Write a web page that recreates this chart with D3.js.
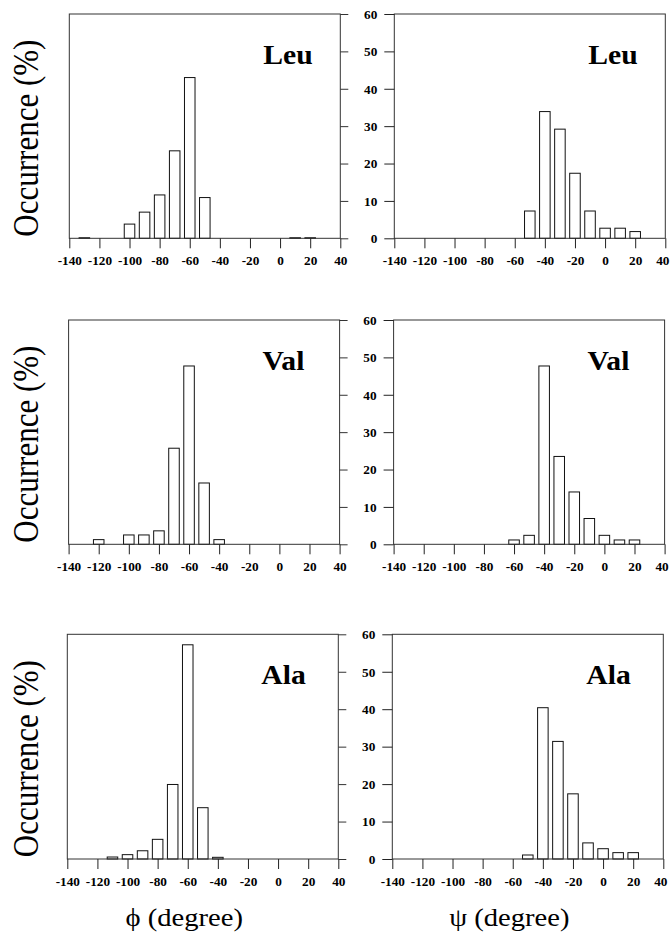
<!DOCTYPE html>
<html><head><meta charset="utf-8">
<script src="https://cdn.jsdelivr.net/npm/d3@7"></script>
<style>body{margin:0;background:#fff}svg{display:block}</style>
</head><body><svg id="c" width="671" height="936"></svg>
<script>
// ---- data ----
const residues = ["Leu", "Val", "Ala"];
const xTicks = [-140, -120, -100, -80, -60, -40, -20, 0, 20, 40];
const yTicks = [0, 10, 20, 30, 40, 50, 60];
const xDomain = [-140, 40];
const yDomain = [0, 60];

const leuPhiBins   = [-130, -100, -90, -80, -70, -60, -50, 10, 20];
const leuPhiValues = [0.15, 3.8, 7.0, 11.6, 23.4, 43.0, 10.9, 0.15, 0.15];
const valPhiBins   = [-120, -100, -90, -80, -70, -60, -50, -40];
const valPhiValues = [1.25, 2.5, 2.5, 3.6, 25.7, 47.7, 16.4, 1.25];
const alaPhiBins   = [-110, -100, -90, -80, -70, -60, -50, -40];
const alaPhiValues = [0.53, 1.16, 2.2, 5.25, 19.9, 57.2, 13.7, 0.45];

const leuPsiBins   = [-50, -40, -30, -20, -10, 0, 10, 20];
const leuPsiValues = [7.3, 33.9, 29.2, 17.4, 7.3, 2.7, 2.7, 1.8];
const valPsiBins   = [-60, -50, -40, -30, -20, -10, 0, 10, 20];
const valPsiValues = [1.16, 2.4, 47.7, 23.5, 14.0, 6.9, 2.4, 1.16, 1.16];
const alaPsiBins   = [-50, -40, -30, -20, -10, 0, 10, 20];
const alaPsiValues = [1.07, 40.4, 31.4, 17.4, 4.3, 2.75, 1.7, 1.7];

const yTitle = "Occurrence (%)";
const xTitles = ["\u03D5 (degree)", "\u03C8 (degree)"];

// ---- layout ----
const svg = d3.select("#c");
const SERIF = "'Liberation Serif','Times New Roman',serif";
const rowTop = [14, 320, 634.3];
const rowBottom = [238.3, 544.3, 859];
const rowShift = [0, -0.7, -2];
const colLeft = [69.3, 394.3];
const panelW = 271;
const halfBin = 3.5;

const panels = [
  [{bins: leuPhiBins, vals: leuPhiValues}, {bins: leuPsiBins, vals: leuPsiValues}],
  [{bins: valPhiBins, vals: valPhiValues}, {bins: valPsiBins, vals: valPsiValues}],
  [{bins: alaPhiBins, vals: alaPhiValues}, {bins: alaPsiBins, vals: alaPsiValues}]
];

panels.forEach((row, r) => {
  row.forEach((p, c) => {
    const x0 = colLeft[c] + rowShift[r];
    const x = d3.scaleLinear().domain(xDomain).range([x0, x0 + panelW]);
    const y = d3.scaleLinear().domain(yDomain).range([rowBottom[r], rowTop[r]]);
    const g = svg.append("g");

    // bars
    g.selectAll("rect.bar").data(p.bins.map((b, i) => ({b, v: p.vals[i]}))).join("rect")
      .attr("class", "bar")
      .attr("x", d => x(d.b - halfBin))
      .attr("width", d => x(d.b + halfBin) - x(d.b - halfBin))
      .attr("y", d => y(d.v))
      .attr("height", d => y(0) - y(d.v))
      .attr("fill", "#fff").attr("stroke", "#111").attr("stroke-width", 1);

    // frame
    g.append("rect")
      .attr("x", x(xDomain[0])).attr("y", y(yDomain[1]))
      .attr("width", x(xDomain[1]) - x(xDomain[0]))
      .attr("height", y(yDomain[0]) - y(yDomain[1]))
      .attr("fill", "none").attr("stroke", "#333").attr("stroke-width", 1);

    // x axis
    const xa = g.append("g").attr("transform", `translate(0,${y(0)})`)
      .call(d3.axisBottom(x).tickValues(xTicks).tickSize(10).tickSizeOuter(0).tickFormat(d => String(d)))
      .attr("font-family", SERIF).attr("font-size", 12.5).attr("font-weight", "bold");
    xa.select(".domain").remove();
    xa.selectAll("line").attr("stroke", "#222");
    xa.selectAll("text").attr("y", 27).attr("dy", null).attr("fill", "#000")
      .attr("transform", d => (c === 1 && d === xDomain[1]) ? "translate(-3,0) scale(1.06,1)" : "scale(1.06,1)");

    if (c === 1) {
      const ya = g.append("g").attr("transform", `translate(${x(xDomain[0])},0)`)
        .call(d3.axisLeft(y).tickValues(yTicks).tickSize(10).tickSizeOuter(0).tickFormat(d => String(d)))
        .attr("font-family", SERIF).attr("font-size", 12.5).attr("font-weight", "bold");
      ya.select(".domain").remove();
      ya.selectAll("line").attr("stroke", "#222");
      ya.selectAll("text").attr("x", 0).attr("dy", "0.34em").attr("fill", "#000")
        .attr("text-anchor", "end").attr("transform", "translate(-17,0) scale(1.06,1)");
    } else {
      const ra = g.append("g").attr("transform", `translate(${x(xDomain[1])},0)`)
        .call(d3.axisRight(y).tickValues(yTicks).tickSize(8).tickSizeOuter(0).tickFormat(""));
      ra.select(".domain").remove();
      ra.selectAll("line").attr("stroke", "#333");

      // y title
      const cy = (rowTop[r] + rowBottom[r]) / 2 + 12;
      svg.append("text").text(yTitle)
        .attr("transform", `translate(38,${cy}) scale(1.15,1) rotate(-90)`)
        .attr("text-anchor", "middle").attr("font-family", SERIF).attr("font-size", 31).attr("fill", "#000");
    }

    // residue label
    svg.append("text").text(residues[r])
      .attr("transform", `translate(${x0 + 194},${rowTop[r] + 50}) scale(1.06,1)`)
      .attr("font-family", SERIF).attr("font-weight", "bold").attr("font-size", 28).attr("fill", "#000");

    if (r === 2) {
      svg.append("text").text(xTitles[c])
        .attr("transform", `translate(${x0 + 117},926) scale(1.1,1)`)
        .attr("text-anchor", "middle").attr("font-family", SERIF).attr("font-size", 26).attr("fill", "#000");
    }
  });
});
</script></body></html>
